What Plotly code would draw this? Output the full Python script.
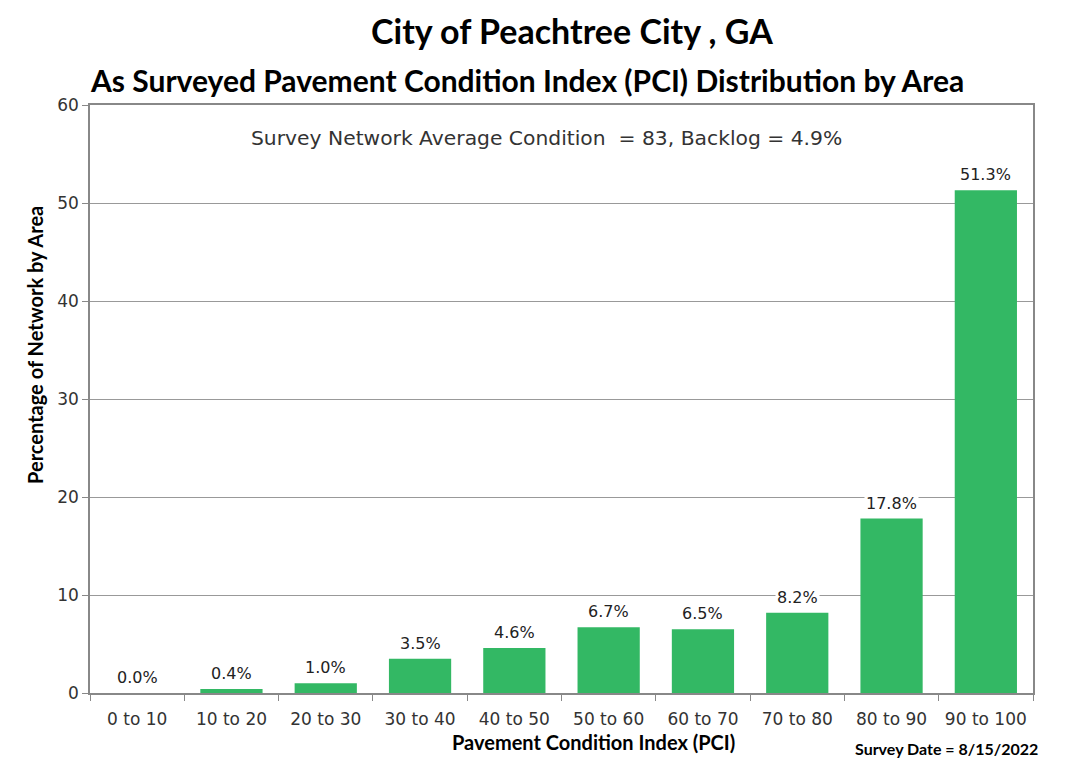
import plotly.graph_objects as go

categories = ["0 to 10", "10 to 20", "20 to 30", "30 to 40", "40 to 50",
              "50 to 60", "60 to 70", "70 to 80", "80 to 90", "90 to 100"]
values = [0.0, 0.4, 1.0, 3.5, 4.6, 6.7, 6.5, 8.2, 17.8, 51.3]
labels = ["0.0%", "0.4%", "1.0%", "3.5%", "4.6%", "6.7%", "6.5%", "8.2%", "17.8%", "51.3%"]
y_ticks = [0, 10, 20, 30, 40, 50, 60]

BOLD = "Lato"
REG = "DejaVu Sans"

fig = go.Figure(go.Bar(
    x=categories, y=values,
    marker=dict(color="#33B864", line=dict(width=0)),
    hoverinfo="skip",
))

for c, v, t in zip(categories, values, labels):
    fig.add_annotation(x=c, y=v, text=t, showarrow=False, yanchor="bottom", yshift=4,
                       font=dict(family=REG, size=16, color="#222"), bgcolor="white",
                       borderpad=1)

fig.add_annotation(xref="paper", yref="paper", x=0.4836, y=0.944, yanchor="middle",
                   text="Survey Network Average Condition  = 83, Backlog = 4.9%",
                   showarrow=False, font=dict(family=REG, size=20.3, color="#333"), bgcolor="white")

fig.add_annotation(xref="paper", yref="paper", x=0.511, y=1, yshift=75,
                   text="<b>City of Peachtree City , GA</b>",
                   showarrow=False, font=dict(family=BOLD, size=34, color="black"), yanchor="middle")
fig.add_annotation(xref="paper", yref="paper", x=-0.002, xanchor="left", y=1, yshift=25,
                   text="<b>As Surveyed Pavement Condition Index (PCI) Distribution by Area</b>",
                   showarrow=False, font=dict(family=BOLD, size=30, color="black"), yanchor="middle")
fig.add_annotation(xref="paper", yref="paper", x=1.0074, xanchor="right", y=0, yshift=-55,
                   text="<b>Survey Date = 8/15/2022</b>",
                   showarrow=False, font=dict(family=BOLD, size=16, color="black"), yanchor="middle")
# axis titles (offset from centre as in the reference)
fig.add_annotation(xref="paper", yref="paper", x=0.534, y=0, yshift=-49, yanchor="middle",
                   text="<b>Pavement Condition Index (PCI)</b>",
                   showarrow=False, font=dict(family=BOLD, size=20, color="black"))
fig.add_annotation(xref="paper", yref="paper", x=0, xshift=-55, xanchor="center", y=0.592, yanchor="middle",
                   text="<b>Percentage of Network by Area</b>", textangle=-90,
                   showarrow=False, font=dict(family=BOLD, size=20, color="black"))

fig.update_layout(
    width=1068, height=764,
    margin=dict(l=82, r=43, t=97, b=79),
    paper_bgcolor="white", plot_bgcolor="white",
    bargap=0.34,
    showlegend=False,
    xaxis=dict(
        tickfont=dict(family=REG, size=17, color="#333"),
        showline=True, linecolor="#888", linewidth=1.5, mirror=True,
        ticks="outside", tickson="boundaries", ticklen=6, tickcolor="#888",
        ticklabelstandoff=10,
        showgrid=False,
    ),
    yaxis=dict(
        tickfont=dict(family=REG, size=17, color="#333"),
        range=[0, 60], tickvals=y_ticks,
        showline=True, linecolor="#888", linewidth=1.5, mirror=True,
        ticks="outside", ticklen=6, tickcolor="#888",
        showgrid=True, gridcolor="#999", gridwidth=1,
        zeroline=False,
    ),
)

fig.write_html("out.html")
